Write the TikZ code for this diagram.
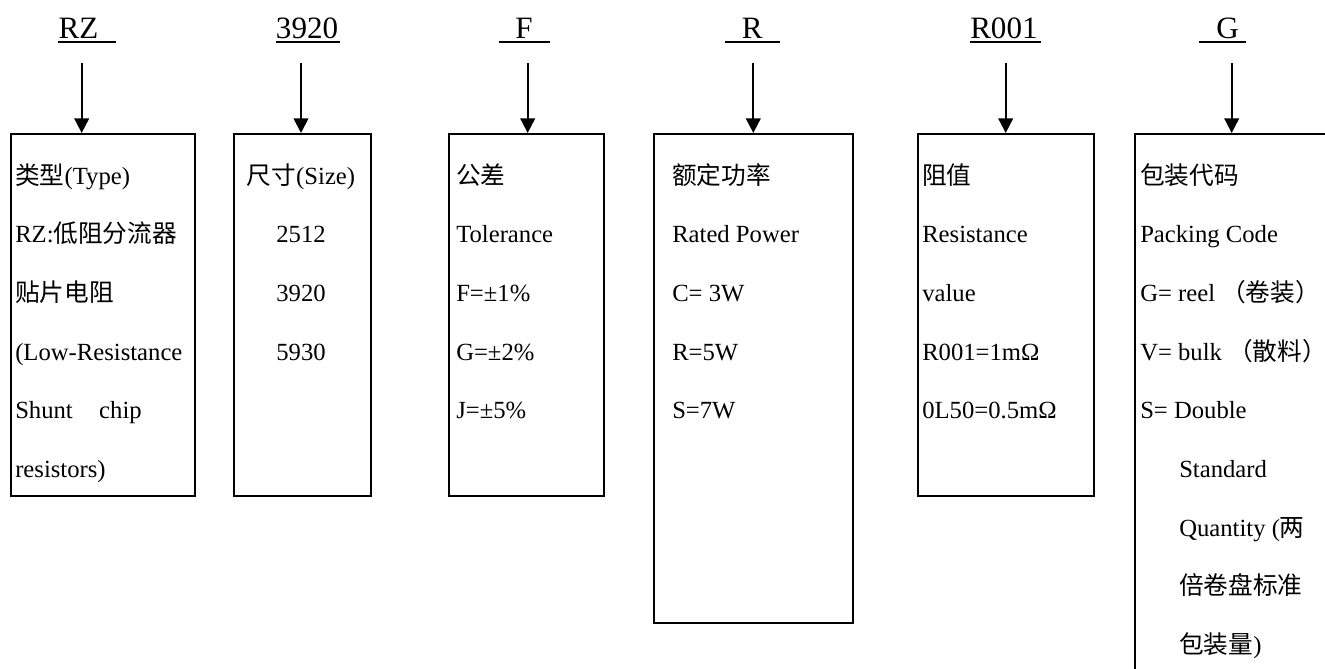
\documentclass[tikz,border=0pt]{standalone}
\usepackage{fontspec}
\setmainfont{Liberation Serif}
\newfontfamily\zhfont{Noto Sans CJK SC}
\newcommand\zh[1]{{\zhfont #1}}
\usetikzlibrary{arrows.meta}

\begin{document}
\begin{tikzpicture}[x=0.75pt,y=-0.75pt,
        hdr/.style={inner sep=0pt,anchor=base west,font=\fontsize{23.3}{28}\selectfont},
        uline/.style={line width=1.2pt},
        box/.style={draw,line width=1.5pt,anchor=north west,inner sep=0pt},
        txt/.style={inner sep=0pt,anchor=base west,font=\fontsize{18.5}{22}\selectfont},
        ctxt/.style={txt,anchor=base},
        arr/.style={line width=1.4pt,-{Triangle[width=11pt,length=11pt]}}]
        \useasboundingbox (0,0) rectangle (1325,668);
        \clip (0,0) rectangle (1325,668);
        \node[hdr] (h1) at (58.3,38) {RZ\hspace*{12.8pt}};
        \node[hdr] (h2) at (275.7,38) {3920\hspace*{1.5pt}};
        \node[hdr] (h3) at (499,38) {\hspace*{12pt}F\hspace*{12.6pt}};
        \node[hdr] (h4) at (725,38) {\hspace*{12.5pt}R\hspace*{12.5pt}};
        \node[hdr] (h5) at (970,38) {R001\hspace*{2.1pt}};
        \node[hdr] (h6) at (1199,38) {\hspace*{12.8pt}G\hspace*{5.3pt}};
        \foreach \h in {h1,h2,h3,h4,h5,h6}
            \draw[uline] ([yshift=-3.2pt]\h.base west) -- ([yshift=-3.2pt]\h.base east);
        \node[box,minimum width=138pt,minimum height=271.5pt] (b1) at (10,133) {};
        \node[box,minimum width=102.75pt,minimum height=271.5pt] (b2) at (232.5,133) {};
        \node[box,minimum width=116.5pt,minimum height=271.5pt] (b3) at (447.5,133) {};
        \node[box,minimum width=148.8pt,minimum height=366.75pt] (b4) at (653.3,133) {};
        \node[box,minimum width=132pt,minimum height=271.5pt] (b5) at (917,133) {};
        \node[box,minimum width=147pt,minimum height=420pt] (b6) at (1134,133) {};
        \coordinate (s1) at (81.7,63);
        \coordinate (s2) at (301,63);
        \coordinate (s3) at (527.7,63);
        \coordinate (s4) at (753.3,63);
        \coordinate (s5) at (1005.7,63);
        \coordinate (s6) at (1231.7,63);
        \draw[arr] (s1) -- (s1 |- b1.north);
        \draw[arr] (s2) -- (s2 |- b2.north);
        \draw[arr] (s3) -- (s3 |- b3.north);
        \draw[arr] (s4) -- (s4 |- b4.north);
        \draw[arr] (s5) -- (s5 |- b5.north);
        \draw[arr] (s6) -- (s6 |- b6.north);
        \node[txt] (t1a) at (15,184) {\zh{类型}(Type)};
        \node[txt] (t1b) at (15,242.7) {RZ:\zh{低阻分流器}};
        \node[txt] (t1c) at (15,301.4) {\zh{贴片电阻}};
        \node[txt] (t1d) at (15,360.1) {(Low-Resistance};
        \node[txt] (t1e) at (15,418.8) {Shunt\hspace{19.8pt}chip};
        \node[txt] (t1f) at (15,477.5) {resistors)};
        \node[ctxt] (t2a) at (301,184) {\zh{尺寸}(Size)};
        \node[ctxt] (t2b) at (301,242.7) {2512};
        \node[ctxt] (t2c) at (301,301.4) {3920};
        \node[ctxt] (t2d) at (301,360.1) {5930};
        \node[txt] (t3a) at (456,184) {\zh{公差}};
        \node[txt] (t3b) at (456,242.7) {Tolerance};
        \node[txt] (t3c) at (456,301.4) {F=±1\%};
        \node[txt] (t3d) at (456,360.1) {G=±2\%};
        \node[txt] (t3e) at (456,418.8) {J=±5\%};
        \node[txt] (t4a) at (672,184) {\zh{额定功率}};
        \node[txt] (t4b) at (672,242.7) {Rated Power};
        \node[txt] (t4c) at (672,301.4) {C= 3W};
        \node[txt] (t4d) at (672,360.1) {R=5W};
        \node[txt] (t4e) at (672,418.8) {S=7W};
        \node[txt] (t5a) at (922,184) {\zh{阻值}};
        \node[txt] (t5b) at (922,242.7) {Resistance};
        \node[txt] (t5c) at (922,301.4) {value};
        \node[txt] (t5d) at (922,360.1) {R001=1mΩ};
        \node[txt] (t5e) at (922,418.8) {0L50=0.5mΩ};
        \node[txt] (t6a) at (1140,184) {\zh{包装代码}};
        \node[txt] (t6b) at (1140,242.7) {Packing Code};
        \node[txt] (t6c) at (1140,301.4) {G= reel \zh{（卷装）}};
        \node[txt] (t6d) at (1140,360.1) {V= bulk \zh{（散料）}};
        \node[txt] (t6e) at (1140,418.8) {S= Double};
        \node[txt] (t6f) at (1179,477.5) {Standard};
        \node[txt] (t6g) at (1179,536.2) {Quantity (\zh{两}};
        \node[txt] (t6h) at (1179,594.9) {\zh{倍卷盘标准}};
        \node[txt] (t6i) at (1179,653.6) {\zh{包装量})};
\end{tikzpicture}
\end{document}
